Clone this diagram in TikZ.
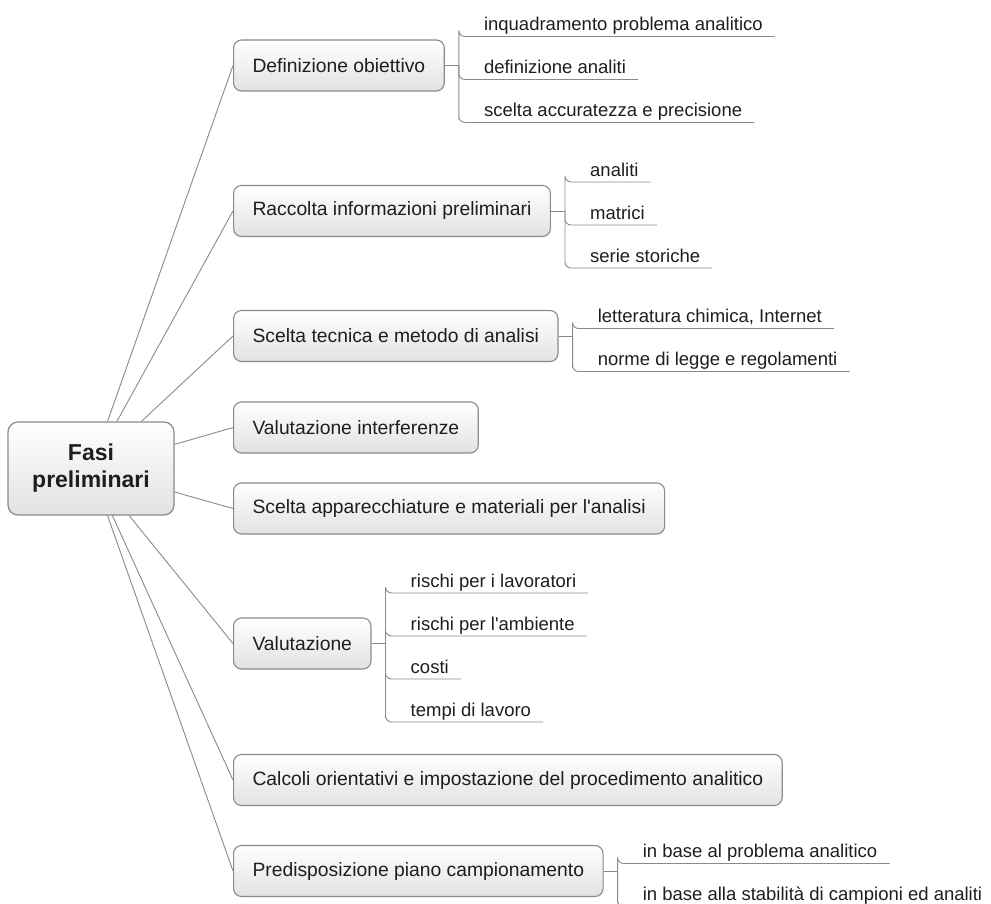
\documentclass[tikz,border=0pt]{standalone}
\usepackage{fontspec}
\setmainfont{Liberation Sans}
\newfontfamily\mapfont{Liberation Sans}
\definecolor{edgegray}{HTML}{8A8A8A}
\definecolor{boxgray}{HTML}{E2E2E2}
\definecolor{txtgray}{HTML}{1E1E1E}
\begin{document}
\begin{tikzpicture}[x=1pt,y=-1pt,
	root/.style={draw=edgegray,line width=1.2pt,rounded corners=10pt,top color=white,bottom color=boxgray,minimum width=166pt,minimum height=93pt,align=center,text=txtgray,font=\mapfont\fontsize{23}{27}\selectfont\bfseries},
	branch/.style={draw=edgegray,line width=1.1pt,rounded corners=8pt,top color=white,bottom color=boxgray,anchor=west,minimum height=51pt,inner xsep=19pt,text=txtgray,font=\mapfont\fontsize{19.3}{23}\selectfont},
	leaf/.style={anchor=base west,inner sep=0pt,text=txtgray,font=\mapfont\fontsize{18.5}{22}\selectfont},
	link/.style={draw=edgegray,line width=0.9pt},
	bracket/.style={draw=edgegray,line width=0.9pt,rounded corners=6pt}]
			\useasboundingbox (0,0) rectangle (991,903);
			\node[root] (R)at(91,468.5) {Fasi\\preliminari};
			\node[branch] (B1)at(233,65.5) {Definizione obiettivo};
			\node[branch] (B2)at(233,211) {Raccolta informazioni preliminari};
			\node[branch] (B3)at(233,336) {Scelta tecnica e metodo di analisi};
			\node[branch] (B4)at(233,427.5) {Valutazione interferenze};
			\node[branch] (B5)at(233,508.5) {Scelta apparecchiature e materiali per l'analisi};
			\node[branch] (B6)at(233,643.5) {Valutazione};
			\node[branch] (B7)at(233,780) {Calcoli orientativi e impostazione del procedimento analitico};
			\node[branch] (B8)at(233,871) {Predisposizione piano campionamento};
			\coordinate (J1) at ([xshift=14pt]B1.east);
			\coordinate (J2) at ([xshift=14pt]B2.east);
			\coordinate (J3) at ([xshift=14pt]B3.east);
			\coordinate (J6) at ([xshift=14pt]B6.east);
			\coordinate (J8) at ([xshift=14pt]B8.east);
			\node[leaf] (L11)at([xshift=39pt,yshift=35pt]B1.east) {inquadramento problema analitico};
			\node[leaf] (L12)at([xshift=39pt,yshift=-8pt]B1.east) {definizione analiti};
			\node[leaf] (L13)at([xshift=39pt,yshift=-51pt]B1.east) {scelta accuratezza e precisione};
			\node[leaf] (L21)at([xshift=39pt,yshift=35pt]B2.east) {analiti};
			\node[leaf] (L22)at([xshift=39pt,yshift=-8pt]B2.east) {matrici};
			\node[leaf] (L23)at([xshift=39pt,yshift=-51pt]B2.east) {serie storiche};
			\node[leaf] (L31)at([xshift=39pt,yshift=13.5pt]B3.east) {letteratura chimica, Internet};
			\node[leaf] (L32)at([xshift=39pt,yshift=-29.5pt]B3.east) {norme di legge e regolamenti};
			\node[leaf] (L61)at([xshift=39pt,yshift=56.5pt]B6.east) {rischi per i lavoratori};
			\node[leaf] (L62)at([xshift=39pt,yshift=13.5pt]B6.east) {rischi per l'ambiente};
			\node[leaf] (L63)at([xshift=39pt,yshift=-29.5pt]B6.east) {costi};
			\node[leaf] (L64)at([xshift=39pt,yshift=-72.5pt]B6.east) {tempi di lavoro};
			\node[leaf] (L81)at([xshift=39pt,yshift=13.5pt]B8.east) {in base al problema analitico};
			\node[leaf] (L82)at([xshift=39pt,yshift=-29.5pt]B8.east) {in base alla stabilità di campioni ed analiti};
			\draw[link] (R) -- (B1.west);
			\draw[link] (R) -- (B2.west);
			\draw[link] (R) -- (B3.west);
			\draw[link] (R) -- (B4.west);
			\draw[link] (R) -- (B5.west);
			\draw[link] (R) -- (B6.west);
			\draw[link] (R) -- (B7.west);
			\draw[link] (R) -- (B8.west);
			\draw[link] (B1.east) -- (J1);
			\draw[link] (B2.east) -- (J2);
			\draw[link] (B3.east) -- (J3);
			\draw[link] (B6.east) -- (J6);
			\draw[link] (B8.east) -- (J8);
			\draw[bracket] (J1) |- ([xshift=-25pt,yshift=-6pt]L11.base west) -- ([xshift=12pt,yshift=-6pt]L11.base east);
			\draw[bracket] (J1) |- ([xshift=-25pt,yshift=-6pt]L12.base west) -- ([xshift=12pt,yshift=-6pt]L12.base east);
			\draw[bracket] (J1) |- ([xshift=-25pt,yshift=-6pt]L13.base west) -- ([xshift=12pt,yshift=-6pt]L13.base east);
			\draw[bracket] (J2) |- ([xshift=-25pt,yshift=-6pt]L21.base west) -- ([xshift=12pt,yshift=-6pt]L21.base east);
			\draw[bracket] (J2) |- ([xshift=-25pt,yshift=-6pt]L22.base west) -- ([xshift=12pt,yshift=-6pt]L22.base east);
			\draw[bracket] (J2) |- ([xshift=-25pt,yshift=-6pt]L23.base west) -- ([xshift=12pt,yshift=-6pt]L23.base east);
			\draw[bracket] (J3) |- ([xshift=-25pt,yshift=-6pt]L31.base west) -- ([xshift=12pt,yshift=-6pt]L31.base east);
			\draw[bracket] (J3) |- ([xshift=-25pt,yshift=-6pt]L32.base west) -- ([xshift=12pt,yshift=-6pt]L32.base east);
			\draw[bracket] (J6) |- ([xshift=-25pt,yshift=-6pt]L61.base west) -- ([xshift=12pt,yshift=-6pt]L61.base east);
			\draw[bracket] (J6) |- ([xshift=-25pt,yshift=-6pt]L62.base west) -- ([xshift=12pt,yshift=-6pt]L62.base east);
			\draw[bracket] (J6) |- ([xshift=-25pt,yshift=-6pt]L63.base west) -- ([xshift=12pt,yshift=-6pt]L63.base east);
			\draw[bracket] (J6) |- ([xshift=-25pt,yshift=-6pt]L64.base west) -- ([xshift=12pt,yshift=-6pt]L64.base east);
			\draw[bracket] (J8) |- ([xshift=-25pt,yshift=-6pt]L81.base west) -- ([xshift=12pt,yshift=-6pt]L81.base east);
			\draw[bracket] (J8) |- ([xshift=-25pt,yshift=-6pt]L82.base west) -- ([xshift=12pt,yshift=-6pt]L82.base east);
			\end{tikzpicture}
\end{document}
